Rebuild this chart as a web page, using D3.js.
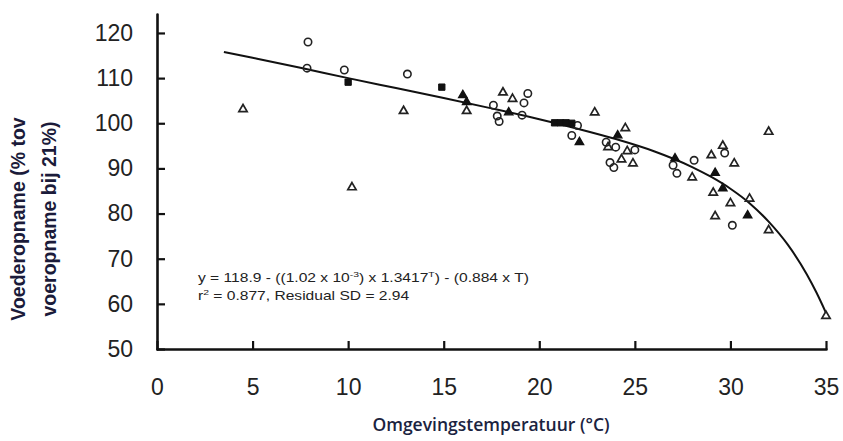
<!DOCTYPE html>
<html><head><meta charset="utf-8">
<script src="https://cdn.jsdelivr.net/npm/d3@7"></script>
<style>
html,body{margin:0;padding:0;background:#fff;}
svg{display:block;}
</style></head>
<body>
<svg id="chart" width="843" height="441"></svg>
<script>
// ---- data ----
const xTicks = [0, 5, 10, 15, 20, 25, 30, 35];
const yTicks = [50, 60, 70, 80, 90, 100, 110, 120];
const xLabel = "Omgevingstemperatuur (°C)";
const yLabelLines = ["Voederopname (% tov", "voeropname bij 21%)"];
const eqLine1 = ["y = 118.9 - ((1.02 x 10", "-3", ") x 1.3417", "T", ") - (0.884 x T)"];
const eqLine2 = ["r", "2", " = 0.877, Residual SD = 2.94"];

// open circles [T, value]
const circles = [
  [7.9,118.0],[7.85,112.2],[9.8,111.8],[13.1,110.9],[17.6,104.0],[17.8,101.6],[17.9,100.4],
  [19.4,106.6],[19.2,104.5],[19.1,101.8],[21.7,97.3],[22.0,99.5],[23.5,95.8],[24.0,94.7],
  [25.0,94.1],[23.7,91.3],[23.9,90.2],[27.0,90.7],[28.1,91.8],[27.2,88.9],[29.7,93.4],[30.1,77.4]
];
// open triangles [T, value]
const triangles = [
  [4.5,103.1],[10.2,85.8],[12.9,102.7],[16.2,102.7],[18.1,106.8],[18.6,105.4],[22.9,102.4],
  [24.5,98.9],[23.6,94.7],[24.6,93.8],[24.3,92.0],[24.9,91.1],[28.0,88.0],[29.0,92.9],
  [29.6,95.0],[30.2,91.1],[32.0,98.1],[29.1,84.6],[30.0,82.3],[31.0,83.3],[29.2,79.4],
  [32.0,76.3],[35.0,57.3]
];
// filled triangles [T, value]
const filledTriangles = [
  [16.0,106.2],[16.2,104.7],[18.4,102.4],[22.1,95.8],[24.1,97.3],[27.1,92.2],[29.2,89.0],
  [29.6,85.6],[30.9,79.6]
];
// filled squares [T, value]
const squares = [
  [10.0,109.1],[14.9,108.0],[20.8,100.1],[21.1,100.1],[21.4,100.1],[21.7,100.0]
];
// fitted curve [T, value]
const curveT = [3.5, 5, 7.5, 10, 12.5, 15, 17.5, 20, 22, 24, 26, 28, 29, 30, 31, 32, 33, 34, 34.5, 35];
const curveV = [115.8, 114.5, 112.3, 110.0, 107.8, 105.6, 103.3, 100.9, 98.8, 96.5, 93.8, 90.3, 88.1, 85.5, 82.3, 78.2, 73.1, 66.5, 62.5, 58.0];

// ---- drawing ----
const svg = d3.select("#chart");
const x = d3.scaleLinear().domain([0, 35]).range([157, 826]);
const y = d3.scaleLinear().domain([50, 124.2]).range([349, 14]);

const axisStroke = "#111";

// x axis
const gx = svg.append("g").attr("transform", `translate(0,${y(50)})`)
  .call(d3.axisBottom(x).tickValues(xTicks).tickSize(-8).tickSizeOuter(0).tickPadding(30));
gx.select(".domain").attr("stroke", axisStroke).attr("stroke-width", 2.6).attr("stroke-linecap","round");
gx.selectAll(".tick line").attr("stroke", axisStroke).attr("stroke-width", 2.2);
gx.selectAll(".tick text").attr("font-family", "Liberation Sans, Arial, sans-serif")
  .attr("font-size", 23).attr("fill", "#222");

// y axis
const gy = svg.append("g").attr("transform", `translate(${x(0)},0)`)
  .call(d3.axisLeft(y).tickValues(yTicks).tickSize(-8).tickSizeOuter(0).tickPadding(24));
gy.select(".domain").attr("stroke", axisStroke).attr("stroke-width", 2.6).attr("stroke-linecap","round");
gy.selectAll(".tick line").attr("stroke", axisStroke).attr("stroke-width", 2.2);
gy.selectAll(".tick text").attr("font-family", "Liberation Sans, Arial, sans-serif")
  .attr("font-size", 23).attr("fill", "#222");

// fitted curve
const curveData = curveT.map((t, i) => [t, curveV[i]]);
svg.append("path").datum(curveData)
  .attr("fill", "none").attr("stroke", "#111").attr("stroke-width", 2)
  .attr("d", d3.line().x(d => x(d[0])).y(d => y(d[1])).curve(d3.curveMonotoneX));

// markers
const triSym = d3.symbol().type(d3.symbolTriangle).size(30);
const sqSym = d3.symbol().type(d3.symbolSquare).size(40);

svg.append("g").selectAll("circle").data(circles).join("circle")
  .attr("cx", d => x(d[0])).attr("cy", d => y(d[1])).attr("r", 3.7)
  .attr("fill", "none").attr("stroke", "#222").attr("stroke-width", 1.6);

svg.append("g").selectAll("path").data(triangles).join("path")
  .attr("d", triSym).attr("transform", d => `translate(${x(d[0])},${y(d[1])})`)
  .attr("fill", "none").attr("stroke", "#222").attr("stroke-width", 1.7);

svg.append("g").selectAll("path").data(filledTriangles).join("path")
  .attr("d", triSym).attr("transform", d => `translate(${x(d[0])},${y(d[1])})`)
  .attr("fill", "#111").attr("stroke", "#111").attr("stroke-width", 1.4);

svg.append("g").selectAll("path").data(squares).join("path")
  .attr("d", sqSym).attr("transform", d => `translate(${x(d[0])},${y(d[1])})`)
  .attr("fill", "#111").attr("stroke", "#111").attr("stroke-width", 1);

// equation text (horizontally stretched like the source)
function richText(parts, px, py) {
  const t = svg.append("text").attr("transform", `translate(${px},${py}) scale(1.3,1)`)
    .attr("font-family", "Liberation Sans, Arial, sans-serif").attr("font-size", 12).attr("fill", "#222");
  parts.forEach((p, i) => {
    const sup = (i % 2 === 1);
    t.append("tspan").text(p)
      .attr("font-size", sup ? 8 : 12)
      .attr("dy", sup ? -5 : (i === 0 ? 0 : 5));
  });
  return t;
}
richText(eqLine1, 198, 282);
richText(eqLine2, 198, 300);

// axis titles
svg.append("text").attr("x", 491).attr("y", 431).attr("text-anchor", "middle")
  .attr("font-family", "Open Sans, sans-serif").attr("font-weight", 600).attr("font-size", 17.5)
  .attr("fill", "#1b2340").text(xLabel);

const yt = svg.append("text").attr("transform", "translate(0,219) rotate(-90)")
  .attr("text-anchor", "middle").attr("font-family", "Liberation Sans, Arial, sans-serif")
  .attr("font-weight", "bold").attr("font-size", 19.5).attr("fill", "#1b1b3a");
yLabelLines.forEach((l, i) => yt.append("tspan").attr("x", 0).attr("y", 25 + i * 31).text(l));
</script>
</body></html>
